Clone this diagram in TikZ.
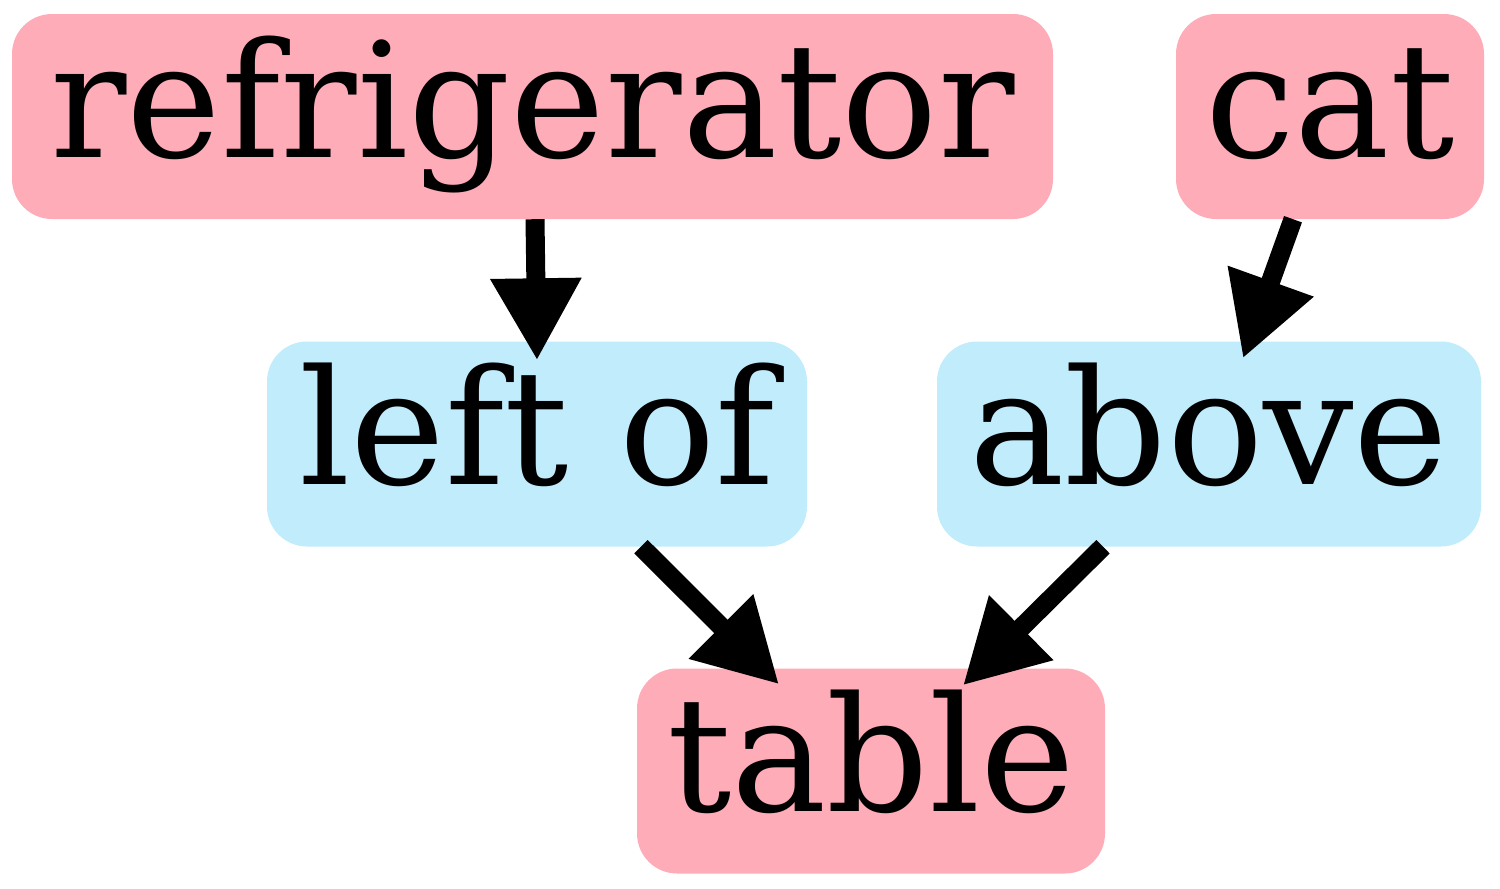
\documentclass[tikz,border=0pt]{standalone}
\usepackage{fontspec}
\setmainfont{DejaVu Serif}
\usetikzlibrary{arrows.meta,calc}
\definecolor{pinkfill}{HTML}{FFACB9}
\definecolor{bluefill}{HTML}{C0ECFC}
\begin{document}
\begin{tikzpicture}[x=1pt,y=1pt,
  box/.style={rounded corners=40pt,inner sep=0pt,minimum height=205pt,
    text height=120pt,text depth=39pt,font=\fontsize{160}{180}\selectfont},
  entity/.style={box,fill=pinkfill},
  relation/.style={box,fill=bluefill},
  link/.style={line width=19pt,-{Triangle[length=82pt,width=86pt]}}]
\useasboundingbox (0,0) rectangle (1500,-889);
\node[entity,minimum width=1041pt] (ref) at (532.5,-116.5) {refrigerator};
\node[entity,minimum width=308pt] (cat) at (1330,-116.5) {cat};
\node[relation,minimum width=540pt] (lo) at (537,-444) {left of};
\node[relation,minimum width=544pt] (ab) at (1209,-444) {above};
\node[entity,minimum width=468pt] (tab) at (871,-771) {table};
\draw[link] ([xshift=2.5pt]ref.south) -- ([yshift=-19pt]lo.north);
\draw[link] ([xshift=-37pt]cat.south) -- ([xshift=34pt,yshift=-17pt]ab.north);
\draw[link] ([xshift=104pt]lo.south) -- ([xshift=-92pt,yshift=-16pt]tab.north);
\draw[link] ([xshift=-106pt]ab.south) -- ([xshift=92pt,yshift=-17pt]tab.north);
\end{tikzpicture}
\end{document}
